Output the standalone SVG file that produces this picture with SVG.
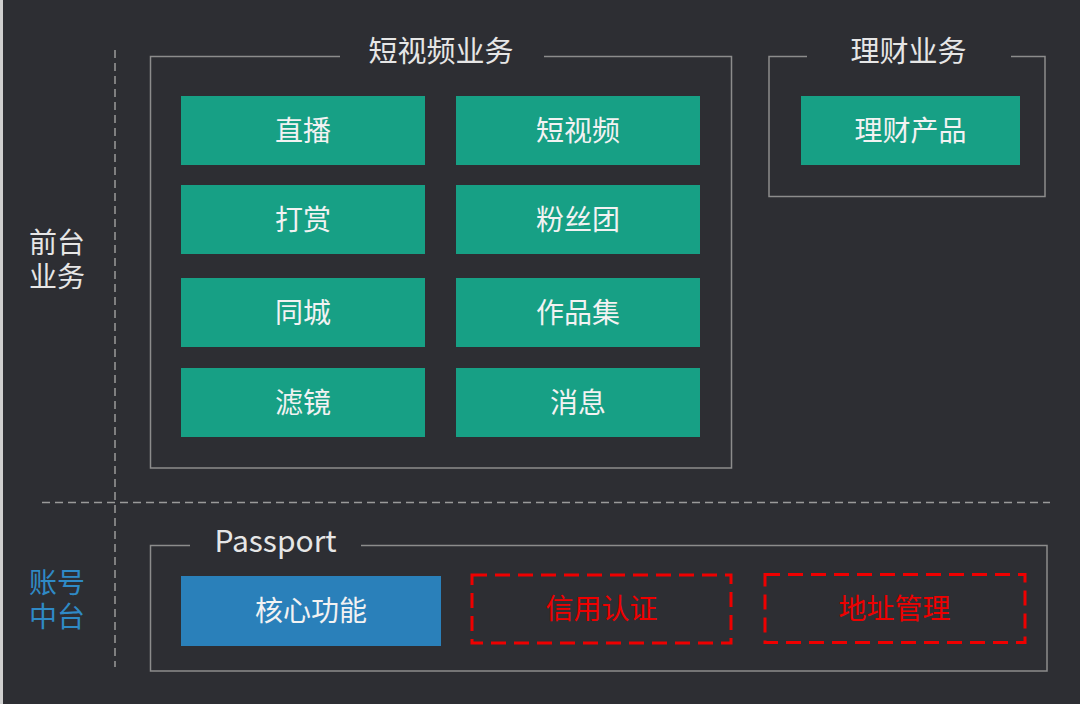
<svg xmlns="http://www.w3.org/2000/svg" width="1080" height="704" viewBox="0 0 1080 704">
  <style>
    text { font-family: "Noto Sans CJK SC", "Noto Sans", sans-serif; text-anchor: middle; }
    .frame { fill: none; stroke: #8c8c8c; stroke-width: 1.5; }
    .divider { fill: none; stroke: #9a9a9a; stroke-width: 1.5; stroke-dasharray: 8 5; }
    .green { fill: #17a085; }
    .blue { fill: #2a80ba; }
    .redbox { fill: none; stroke: #ee0000; stroke-width: 3; stroke-dasharray: 15 8; }
    .lbl { fill: #f2f2f2; font-size: 28px; }
    .title { fill: #e6e6e6; font-size: 29px; }
    .side { fill: #e6e6e6; font-size: 28px; }
    .sideblue { fill: #2f8ac6; font-size: 28px; }
    .redtxt { fill: #ee0000; font-size: 28px; }
  </style>
  <rect x="0" y="0" width="1080" height="704" fill="#2d2e33"/>
  <rect x="0" y="0" width="3" height="704" fill="#cfcfcf"/>

  <g id="connectors">
    <line class="divider" x1="115" y1="50" x2="115" y2="667"/>
    <line class="divider" x1="42" y1="502.5" x2="1050" y2="502.5"/>
  </g>

  <g id="side-labels">
    <text class="side" x="57" y="253"><tspan x="57" y="253">前台</tspan><tspan x="57" y="287">业务</tspan></text>
    <text class="sideblue" x="57" y="593"><tspan x="57" y="593">账号</tspan><tspan x="57" y="627">中台</tspan></text>
  </g>

  <g id="group-short-video">
    <path class="frame" d="M340 56.5 H150.5 V468 H731.5 V56.5 H544"/>
    <text class="title" x="441" y="62">短视频业务</text>
  </g>

  <g id="group-finance">
    <path class="frame" d="M807 56.5 H769 V196.5 H1045 V56.5 H1011"/>
    <text class="title" x="908.5" y="62">理财业务</text>
  </g>

  <g id="group-passport">
    <path class="frame" d="M190 545.5 H150.5 V671 H1047 V545.5 H361"/>
    <text class="title" x="275.5" y="552" style="font-size:30px">Passport</text>
  </g>

  <g id="node-zhibo"><rect class="green" x="181" y="96" width="244" height="69"/><text class="lbl" x="303" y="141">直播</text></g>
  <g id="node-duanshipin"><rect class="green" x="456" y="96" width="244" height="69"/><text class="lbl" x="578" y="141">短视频</text></g>
  <g id="node-dashang"><rect class="green" x="181" y="185" width="244" height="69"/><text class="lbl" x="303" y="230">打赏</text></g>
  <g id="node-fensituan"><rect class="green" x="456" y="185" width="244" height="69"/><text class="lbl" x="578" y="230">粉丝团</text></g>
  <g id="node-tongcheng"><rect class="green" x="181" y="278" width="244" height="69"/><text class="lbl" x="303" y="323">同城</text></g>
  <g id="node-zuopinji"><rect class="green" x="456" y="278" width="244" height="69"/><text class="lbl" x="578" y="323">作品集</text></g>
  <g id="node-lvjing"><rect class="green" x="181" y="368" width="244" height="69"/><text class="lbl" x="303" y="413">滤镜</text></g>
  <g id="node-xiaoxi"><rect class="green" x="456" y="368" width="244" height="69"/><text class="lbl" x="578" y="413">消息</text></g>

  <g id="node-licaichanpin"><rect class="green" x="801" y="96" width="219" height="69"/><text class="lbl" x="910.5" y="141">理财产品</text></g>

  <g id="node-hexingongneng"><rect class="blue" x="181" y="576" width="260" height="70"/><text class="lbl" x="311" y="621">核心功能</text></g>
  <g id="node-xinyongrenzheng"><rect class="redbox" x="472" y="575" width="259" height="68"/><text class="redtxt" x="601.5" y="619">信用认证</text></g>
  <g id="node-dizhiguanli"><rect class="redbox" x="765" y="574.5" width="260" height="68"/><text class="redtxt" x="894.5" y="619">地址管理</text></g>
</svg>
